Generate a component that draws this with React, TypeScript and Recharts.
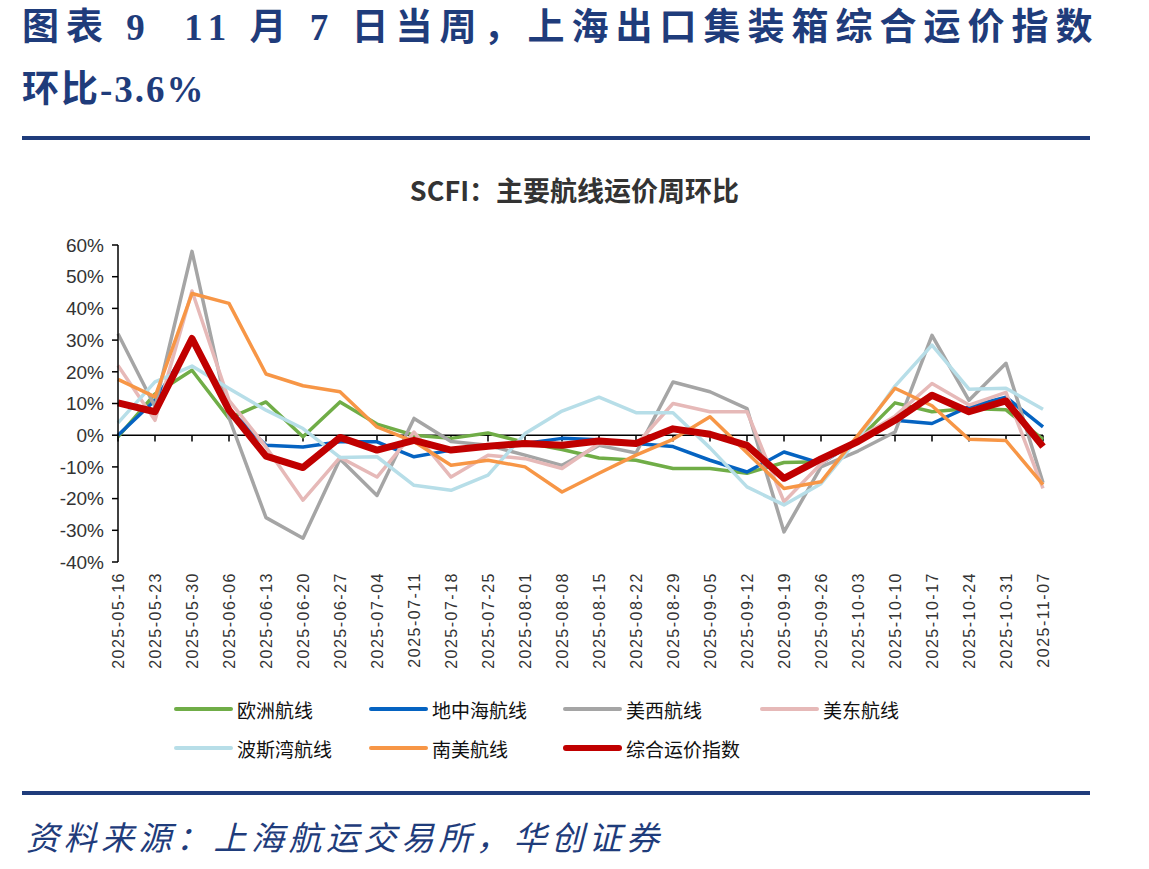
import { Line, LineChart, ReferenceLine, XAxis, YAxis } from "recharts";

// SCFI 主要航线运价周环比（%），数值读自原图
const DATES = [
  "2025-05-16", "2025-05-23", "2025-05-30", "2025-06-06", "2025-06-13", "2025-06-20",
  "2025-06-27", "2025-07-04", "2025-07-11", "2025-07-18", "2025-07-25", "2025-08-01",
  "2025-08-08", "2025-08-15", "2025-08-22", "2025-08-29", "2025-09-05", "2025-09-12",
  "2025-09-19", "2025-09-26", "2025-10-03", "2025-10-10", "2025-10-17", "2025-10-24",
  "2025-10-31", "2025-11-07",
];
const EUROPE = [-0.5, 13, 20.5, 5.3, 10.5, -0.5, 10.5, 3.5, 0, -1, 0.7, -2.3, -4.5, -7.2, -7.9, -10.5, -10.5, -12, -8.6, -8.4, -1.5, 10.2, 7.4, 8.4, 8, -1.3];
const MED = [0, 11, 29.5, 8, -3.2, -3.7, -2.1, -2.1, -6.8, -4.7, -3.7, -2.6, -1, -1.4, -2.6, -3.6, -7.9, -11.6, -5.3, -8.9, -1.5, 4.7, 3.7, 9, 12, 2.6];
const US_WEST = [32, 9, 58, 5.5, -26, -32.5, -7.5, -19, 5.3, -2, -3.2, -6.3, -9.5, -3.2, -5.6, 16.8, 13.7, 8.4, -30.5, -10, -5, 1, 31.5, 11, 22.7, -15];
const US_EAST = [22, 4.7, 45.5, 11, -3.7, -20.5, -7, -13.2, 1, -13.2, -6.3, -7.4, -10.5, -2.6, -3, 10, 7.4, 7.4, -21, -9, -1, 6, 16.3, 9.5, 13.5, -16.8];
const GULF = [3.9, 16.8, 21.8, 14.7, 7.9, 2.1, -7, -6.8, -15.8, -17.4, -12.6, 0.5, 7.6, 12, 7.1, 7.1, -4, -16.3, -22, -15.3, -1, 15.5, 28.4, 14.5, 14.8, 8.2];
const S_AMERICA = [17.6, 12.1, 44.7, 41.6, 19.3, 15.6, 13.7, 2.6, -2, -9.5, -7.9, -10, -17.9, -12, -6.3, -1.3, 5.8, -5.5, -16.8, -14.7, 0, 14.8, 9.3, -1.3, -1.7, -15.6];
const COMPOSITE = [10.2, 7.4, 30.5, 7.9, -6.6, -10.2, -0.7, -4.7, -1.6, -4.7, -3.5, -2.6, -3.2, -1.8, -2.6, 2, 0.3, -3.2, -13.6, -7.5, -2, 4.7, 12.6, 7.4, 10.8, -3.6];
const Y_TICKS = [-40, -30, -20, -10, 0, 10, 20, 30, 40, 50, 60];

const SERIES = [
  { key: "europe", name: "欧洲航线", values: EUROPE, color: "#70AD47", width: 3.5 },
  { key: "med", name: "地中海航线", values: MED, color: "#0563C1", width: 3.5 },
  { key: "usWest", name: "美西航线", values: US_WEST, color: "#A5A5A5", width: 3.5 },
  { key: "usEast", name: "美东航线", values: US_EAST, color: "#E6B9B8", width: 3.5 },
  { key: "gulf", name: "波斯湾航线", values: GULF, color: "#B7DEE8", width: 3.5 },
  { key: "sAmerica", name: "南美航线", values: S_AMERICA, color: "#F79646", width: 3.5 },
  { key: "composite", name: "综合运价指数", values: COMPOSITE, color: "#C00000", width: 7 },
];

const data = DATES.map((date, i) => {
  const row: Record<string, string | number> = { date };
  SERIES.forEach((s) => (row[s.key] = s.values[i]));
  return row;
});

const NAVY = "#1F3C7B";
const AXIS_FONT = "'Liberation Sans', Arial, sans-serif";
const CJK = "'Noto Sans CJK SC', 'Noto Sans', sans-serif";

// 图例位置（两行）
const LEGEND_POS = [
  { left: 174, top: 709 },
  { left: 369, top: 709 },
  { left: 563, top: 709 },
  { left: 760, top: 709 },
  { left: 174, top: 748 },
  { left: 369, top: 748 },
  { left: 563, top: 748 },
];

function DateTick({ x, y, payload }: any) {
  return (
    <text
      x={x}
      y={y}
      transform={`rotate(-90 ${x} ${y})`}
      textAnchor="end"
      dominantBaseline="central"
      fontSize={16}
      letterSpacing={1.5}
      fill="#333"
      fontFamily={AXIS_FONT}
    >
      {payload.value}
    </text>
  );
}

export default function App() {
  return (
    <div
      style={{
        position: "absolute",
        left: 0,
        top: 0,
        width: 1149,
        height: 869,
        background: "#fff",
        overflow: "hidden",
      }}
    >
      <div
        style={{
          position: "absolute",
          left: 22,
          top: -3,
          fontFamily: `'Liberation Serif', ${CJK}`,
          fontWeight: 700,
          fontSize: 37,
          lineHeight: "62px",
          color: NAVY,
          whiteSpace: "pre",
        }}
      >
        <span style={{ letterSpacing: 7 }}>{"图表 9  11 月 7 日当周，上海出口集装箱综合运价指数"}</span>
        {"\n"}
        <span style={{ letterSpacing: 2 }}>环比-3.6%</span>
      </div>
      <div style={{ position: "absolute", left: 22, top: 136, width: 1068, height: 4, background: NAVY }} />

      <div
        style={{
          position: "absolute",
          left: 0,
          width: 1149,
          top: 170,
          textAlign: "center",
          fontFamily: CJK,
          fontWeight: 700,
          fontSize: 27,
          color: "#333",
        }}
      >
        SCFI：主要航线运价周环比
      </div>

      <div style={{ position: "absolute", left: 0, top: 0 }}>
        <LineChart
          width={1149}
          height={680}
          data={data}
          margin={{ top: 245, right: 106, bottom: 8, left: 58 }}
        >
          <XAxis
            dataKey="date"
            interval={0}
            axisLine={false}
            tickLine={false}
            tickMargin={4}
            height={110}
            tick={<DateTick />}
          />
          <YAxis
            domain={[-40, 60]}
            ticks={Y_TICKS}
            width={60}
            tickFormatter={(v) => `${v}%`}
            axisLine={{ stroke: "#000", strokeWidth: 1.5 }}
            tickLine={{ stroke: "#000", strokeWidth: 1.5 }}
            tickSize={6}
            tickMargin={8}
            tick={{ fontSize: 19, fill: "#333", fontFamily: AXIS_FONT }}
          />
          <ReferenceLine y={0} stroke="#000" strokeWidth={1.5} />
          {DATES.map((d) => (
            <ReferenceLine
              key={`tick-${d}`}
              segment={[
                { x: d, y: 0 },
                { x: d, y: -2 },
              ]}
              stroke="#000"
              strokeWidth={1.5}
            />
          ))}
          {SERIES.map((s) => (
            <Line
              key={s.key}
              dataKey={s.key}
              name={s.name}
              type="linear"
              stroke={s.color}
              strokeWidth={s.width}
              strokeLinejoin="round"
              dot={false}
              activeDot={false}
              isAnimationActive={false}
            />
          ))}
        </LineChart>
      </div>

      {SERIES.map((s, i) => (
        <div
          key={`legend-${s.key}`}
          style={{
            position: "absolute",
            left: LEGEND_POS[i].left,
            top: LEGEND_POS[i].top - 14,
            height: 28,
            display: "flex",
            alignItems: "center",
            fontFamily: CJK,
            fontSize: 19,
            color: "#111",
          }}
        >
          <div
            style={{
              width: 59,
              height: s.width === 7 ? 6 : 4,
              borderRadius: 3,
              background: s.color,
              marginRight: 4,
            }}
          />
          <span>{s.name}</span>
        </div>
      ))}

      <div style={{ position: "absolute", left: 22, top: 791, width: 1068, height: 4, background: NAVY }} />
      <div
        style={{
          position: "absolute",
          left: 26,
          top: 812,
          fontFamily: CJK,
          fontStyle: "italic",
          fontSize: 33,
          letterSpacing: 4.5,
          color: NAVY,
          whiteSpace: "pre",
        }}
      >
        资料来源：上海航运交易所，华创证券
      </div>
    </div>
  );
}
